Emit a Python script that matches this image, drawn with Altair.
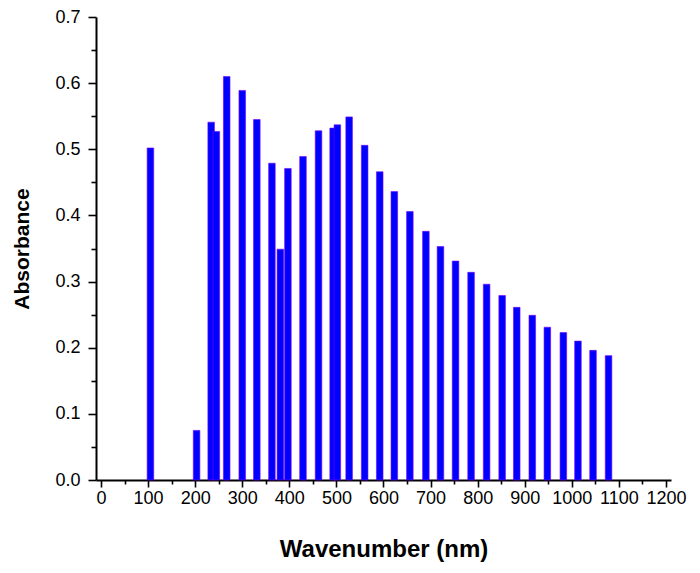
import altair as alt
import pandas as pd

wavenumber = [105, 203, 234, 245, 267, 300, 331, 363, 381, 397, 429, 462, 493, 502,
              527, 560, 592, 623, 656, 690, 721, 753, 786, 819, 852, 883, 916, 948,
              982, 1013, 1045, 1078]
absorbance = [0.502, 0.075, 0.541, 0.527, 0.610, 0.589, 0.545, 0.479, 0.349, 0.471,
              0.489, 0.528, 0.532, 0.537, 0.549, 0.506, 0.466, 0.436, 0.406, 0.376,
              0.353, 0.331, 0.314, 0.296, 0.279, 0.261, 0.249, 0.231, 0.223, 0.210,
              0.196, 0.188]

x_ticks = list(range(0, 1201, 50))
y_ticks = [round(i * 0.05, 2) for i in range(0, 15)]

df = pd.DataFrame({"wn": wavenumber, "abs": absorbance, "order": list(range(len(wavenumber)))})

FONT = "Liberation Sans"
YMAJ = "round(datum.value*100) % 10 === 0"

chart = alt.Chart(df).mark_bar(
    width=6.6, color="#0000ff", stroke="#7a00ff", strokeWidth=0.6
).encode(
    x=alt.X("wn:Q", title="Wavenumber (nm)",
            scale=alt.Scale(domain=[0, 1200], nice=False, zero=True),
            axis=alt.Axis(values=x_ticks,
                          labelExpr="datum.value % 100 === 0 ? datum.label : ''",
                          tickSize={"condition": {"test": "datum.value % 100 === 0", "value": 7}, "value": 4},
                          format="d", labelFlush=False, labelOverlap=False,
                          labelFontSize=18, labelPadding=2, titlePadding=30,
                          titleFontSize=24)),
    y=alt.Y("abs:Q", title="Absorbance",
            scale=alt.Scale(domain=[0, 0.7], nice=False),
            axis=alt.Axis(values=y_ticks,
                          labelExpr=YMAJ + " ? format(datum.value, '.1f') : ''",
                          tickSize={"condition": {"test": YMAJ, "value": 8}, "value": 5},
                          labelFontSize=18, labelPadding=8, titlePadding=22,
                          titleFontSize=21,
                          labelFlush=False, labelOverlap=False)),
    order="order:Q",
).properties(
    width=575, height=463,
    autosize="none",
    padding={"left": 88, "top": 9, "right": 20, "bottom": 85},
).configure_view(stroke=None).configure_axis(
    grid=False,
    domainColor="black", domainWidth=2,
    tickColor="black", tickWidth=1.6,
    labelFont=FONT, labelColor="black",
    titleFont=FONT, titleFontWeight="bold", titleColor="black",
)

chart.save("out.html", embed_options={"renderer": "svg", "actions": False})
